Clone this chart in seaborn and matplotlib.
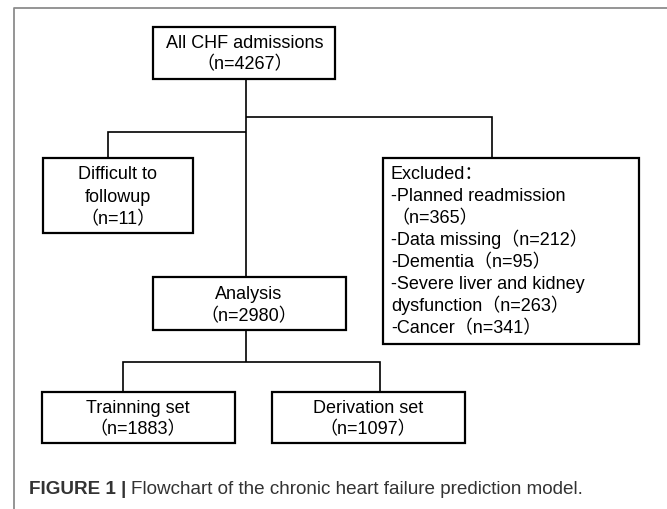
import matplotlib
matplotlib.use("Agg")
import matplotlib.pyplot as plt
import seaborn as sns
from matplotlib.patches import Rectangle

sns.set_theme(style="white")
plt.rcParams['font.family'] = ['Liberation Sans', 'Noto Sans CJK SC', 'DejaVu Sans']

# ---- data ----
total_label = "All CHF admissions"
total_n = 4267
lost_label = ["Difficult to", "followup"]
lost_n = 11
excluded_title = "Excluded："
excluded_lines = ["-Planned readmission", "（n=365）", "-Data missing（n=212）",
                  "-Dementia（n=95）", "-Severe liver and kidney",
                  "dysfunction（n=263）", "-Cancer（n=341）"]
analysis_label = "Analysis"
analysis_n = 2980
train_label = "Trainning set"
train_n = 1883
deriv_label = "Derivation set"
deriv_n = 1097
caption_bold = "FIGURE 1 |"
caption_text = "Flowchart of the chronic heart failure prediction model."

W, H = 667, 509
fig = plt.figure(figsize=(W / 100, H / 100), dpi=100)
ax = fig.add_axes([0, 0, 1, 1])
ax.set_xlim(0, W)
ax.set_ylim(H, 0)
ax.axis("off")

FS = 13
BOX_LW = 1.6
LINE_LW = 1.2


def box(x0, y0, x1, y1):
    ax.add_patch(Rectangle((x0, y0), x1 - x0, y1 - y0, fill=False,
                           edgecolor="black", linewidth=BOX_LW, zorder=3))


def line(xs, ys):
    ax.plot(xs, ys, color="black", linewidth=LINE_LW, solid_capstyle="butt",
            solid_joinstyle="miter", zorder=2)


def ctext(x, y, s):
    ax.text(x, y, s, ha="center", va="baseline", fontsize=FS, color="black")


def ntext(n):
    return "（n=%d）" % n

# outer frame (left and top edges)
ax.plot([14, 14, W + 5], [H + 5, 8, 8], color="#8c8c8c", linewidth=1.3, zorder=1)

# top box
box(153, 27, 335, 79)
ctext(245, 48, total_label)
ctext(245, 69, ntext(total_n))

# connectors from top
line([246, 246], [79, 277])
line([246, 492, 492], [117, 117, 158])
line([246, 108, 108], [132, 132, 158])

# difficult box
box(43, 158, 193, 233)
ctext(118, 179, lost_label[0])
ctext(118, 202, lost_label[1])
ctext(118, 224, ntext(lost_n))

# excluded box
box(383, 158, 639, 344)
ys = [179 + 22 * i for i in range(len(excluded_lines) + 1)]
ax.text(391, ys[0], excluded_title, ha="left", va="baseline", fontsize=FS, color="black")
for yy, s in zip(ys[1:], excluded_lines):
    ax.text(391, yy, s, ha="left", va="baseline", fontsize=FS, color="black")

# analysis box
box(153, 277, 346, 330)
ctext(249, 299, analysis_label)
ctext(249, 321, ntext(analysis_n))

# connectors from analysis
line([246, 246], [330, 362])
line([123, 123, 380, 380], [392, 362, 362, 392])

# training / derivation boxes
box(42, 392, 235, 443)
ctext(138, 413, train_label)
ctext(138, 434, ntext(train_n))
box(272, 392, 465, 443)
ctext(368, 413, deriv_label)
ctext(368, 434, ntext(deriv_n))

# caption
CFS = 13.6
t1 = ax.text(29, 494, caption_bold, ha="left", va="baseline", fontsize=CFS,
             fontweight="bold", color="#333333")
fig.canvas.draw()
bb = t1.get_window_extent(renderer=fig.canvas.get_renderer())
x_end = ax.transData.inverted().transform((bb.x1, bb.y0))[0]
ax.text(x_end + 5, 494, caption_text, ha="left", va="baseline", fontsize=CFS,
        color="#333333")

fig.savefig("out.png", dpi=100)
